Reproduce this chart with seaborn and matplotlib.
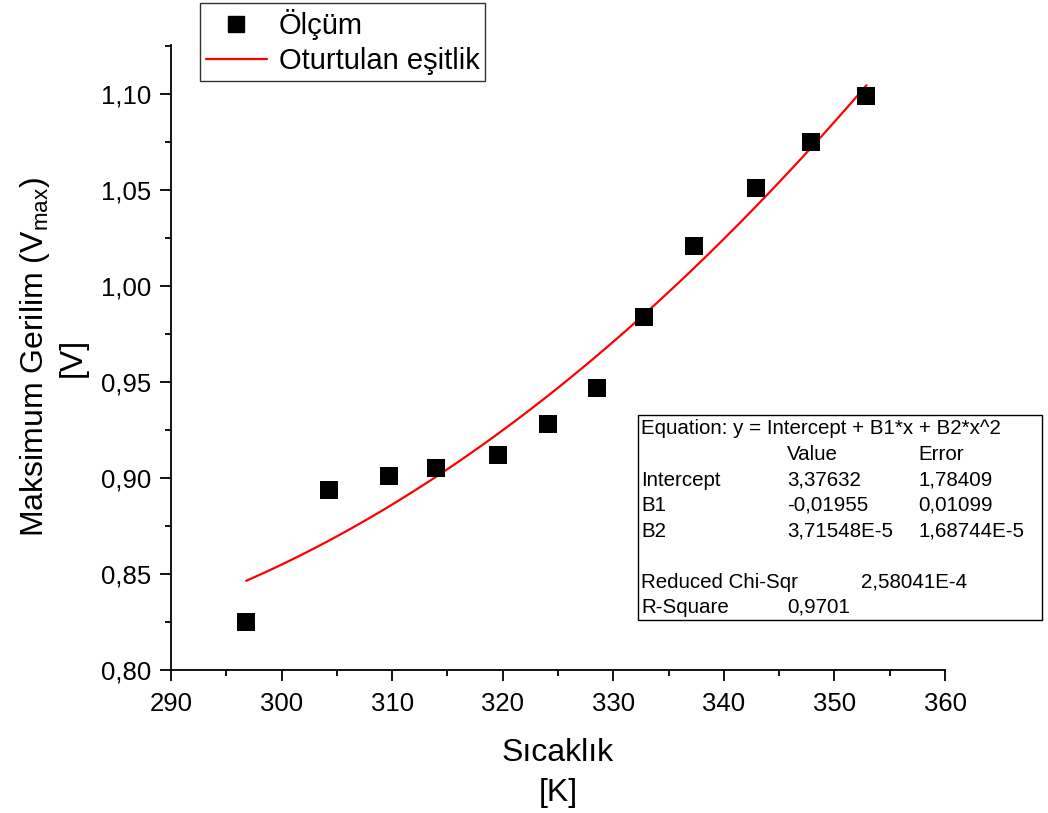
import matplotlib
matplotlib.use("Agg")
import matplotlib.pyplot as plt
from matplotlib.ticker import MultipleLocator, FuncFormatter
from matplotlib.lines import Line2D
from matplotlib.patches import Rectangle
import seaborn as sns
import pandas as pd

# measured points
sicaklik = [296.8, 304.3, 309.7, 314.0, 319.6, 324.1, 328.5, 332.8, 337.3, 342.9, 347.9, 352.9]
gerilim = [0.825, 0.894, 0.901, 0.905, 0.912, 0.928, 0.947, 0.984, 1.021, 1.051, 1.075, 1.099]

# fit report shown in the box
fit_rows = [
    ("Intercept", "3,37632", "1,78409"),
    ("B1", "-0,01955", "0,01099"),
    ("B2", "3,71548E-5", "1,68744E-5"),
]
chi_sqr = "2,58041E-4"
r_square = "0,9701"

df = pd.DataFrame({"T": sicaklik, "V": gerilim})

sns.set_style("ticks")
plt.rcParams["font.family"] = ["Liberation Sans", "DejaVu Sans"]
plt.rcParams["mathtext.fontset"] = "custom"
plt.rcParams["mathtext.rm"] = "Liberation Sans"
plt.rcParams["mathtext.it"] = "Liberation Sans"
for k in ["text.color", "axes.labelcolor", "xtick.color", "ytick.color", "axes.edgecolor"]:
    plt.rcParams[k] = "black"

fig = plt.figure(figsize=(10.48, 8.13), dpi=100)
ax = fig.add_axes([171 / 1048, 1 - 670 / 813, (945 - 171) / 1048, (670 - 45) / 813])

sns.regplot(data=df, x="T", y="V", order=2, ci=None, scatter=False,
            line_kws={"color": "red", "lw": 1.6}, ax=ax)
sns.scatterplot(data=df, x="T", y="V", marker="s", s=150, color="black",
                linewidth=0, ax=ax, zorder=3)

ax.set_xlim(290, 360)
ax.set_ylim(0.80, 1.1255)
ax.xaxis.set_major_locator(MultipleLocator(10))
ax.xaxis.set_minor_locator(MultipleLocator(5))
ax.yaxis.set_major_locator(MultipleLocator(0.05))
ax.yaxis.set_minor_locator(MultipleLocator(0.025))
ax.yaxis.set_major_formatter(FuncFormatter(lambda v, p: f"{v:.2f}".replace(".", ",")))
ax.xaxis.set_major_formatter(FuncFormatter(lambda v, p: f"{v:.0f}"))
sns.despine(ax=ax)
for s in ["left", "bottom"]:
    ax.spines[s].set_linewidth(1.3)
ax.tick_params(which="major", length=8, width=1.3, labelsize=18.5, direction="out", pad=6)
ax.tick_params(axis="x", which="major", pad=8)
ax.tick_params(which="minor", length=4.5, width=1.3, direction="out")

ax.set_xlabel("Sıcaklık\n[K]", fontsize=23, labelpad=16, linespacing=1.42)
ax.set_ylabel("Maksimum Gerilim (V$_{max}$)\n[V]", fontsize=23, labelpad=10, linespacing=1.25)

handles = [
    Line2D([], [], marker="s", color="black", linestyle="none", markersize=11),
    Line2D([], [], color="red", lw=1.6),
]
leg = fig.legend(handles, ["Ölçüm", "Oturtulan eşitlik"], loc="upper left",
                 bbox_to_anchor=(200 / 1048, 1 - 3 / 813), bbox_transform=fig.transFigure,
                 fontsize=21, frameon=True, fancybox=False, edgecolor="black",
                 handlelength=2.1, borderpad=0.2, labelspacing=0.25, handletextpad=0.4,
                 borderaxespad=0)
leg.get_frame().set_linewidth(1.0)

# fit box in pixel-based figure coords
W, H = 1048, 813
fig.patches.append(Rectangle((638 / W, 1 - 620 / H), (1042 - 638) / W, (620 - 415) / H,
                             transform=fig.transFigure, fill=True, facecolor="white",
                             edgecolor="black", lw=1.0, zorder=5))
fs = 14.8
def cell(x, y, s):
    fig.text(x / W, 1 - y / H, s, fontsize=fs, va="center", ha="left", zorder=6)

cell(641, 428, "Equation: y = Intercept + B1*x + B2*x^2")
cell(787, 454, "Value")
cell(918, 454, "Error")
row_y = [480, 505, 531]
for (name, val, err), y in zip(fit_rows, row_y):
    cell(641, y, name)
    cell(787, y, val)
    cell(918, y, err)
cell(641, 582, "Reduced Chi-Sqr")
cell(861, 582, chi_sqr)
cell(641, 607, "R-Square")
cell(787, 607, r_square)

fig.savefig("out.png", dpi=100)
